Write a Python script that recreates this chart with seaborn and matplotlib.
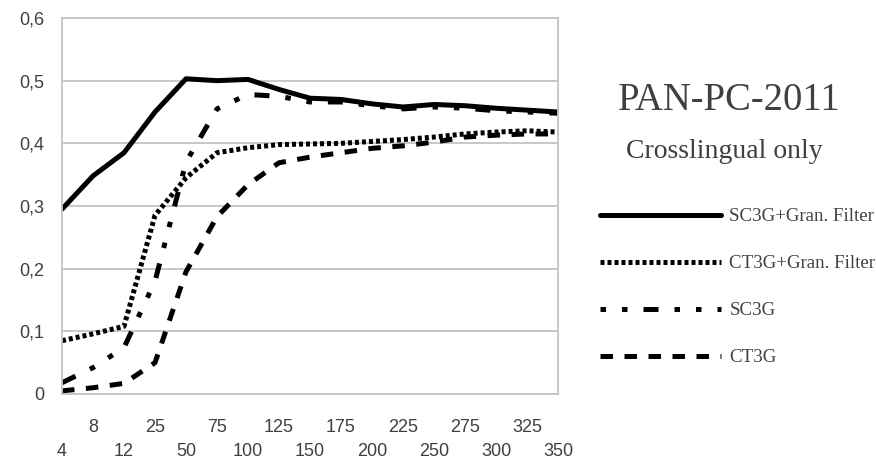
import numpy as np
import pandas as pd
import matplotlib
matplotlib.use("Agg")
import matplotlib.pyplot as plt
import seaborn as sns
from matplotlib.lines import Line2D

categories = ["4", "8", "12", "25", "50", "75", "100", "125", "150",
              "175", "200", "225", "250", "275", "300", "325", "350"]
sc3g_gran = [0.295, 0.348, 0.385, 0.450, 0.503, 0.500, 0.502, 0.486, 0.472,
             0.470, 0.463, 0.458, 0.462, 0.460, 0.456, 0.453, 0.450]
ct3g_gran = [0.085, 0.096, 0.108, 0.285, 0.345, 0.385, 0.393, 0.398, 0.399,
             0.400, 0.403, 0.406, 0.410, 0.415, 0.418, 0.420, 0.418]
sc3g = [0.018, 0.042, 0.074, 0.180, 0.370, 0.455, 0.478, 0.475, 0.466,
        0.466, 0.460, 0.455, 0.458, 0.456, 0.452, 0.450, 0.448]
ct3g = [0.005, 0.010, 0.017, 0.050, 0.195, 0.283, 0.334, 0.369, 0.378,
        0.385, 0.392, 0.396, 0.402, 0.410, 0.413, 0.415, 0.415]
series_names = ["SC3G+Gran. Filter", "CT3G+Gran. Filter", "SC3G", "CT3G"]
y_ticks = [0, 0.1, 0.2, 0.3, 0.4, 0.5, 0.6]
y_tick_labels = ["0", "0,1", "0,2", "0,3", "0,4", "0,5", "0,6"]
title = "PAN-PC-2011"
subtitle = "Crosslingual only"

sns.set_theme(style="white")
plt.rcParams['font.family'] = ['Liberation Sans', 'DejaVu Sans']

W, H = 876, 459
fig = plt.figure(figsize=(W / 100, H / 100), dpi=100)
ax = fig.add_axes([62 / W, 1 - 394 / H, (558 - 62) / W, (394 - 18) / H])

pos = np.arange(len(categories))
df = pd.DataFrame({
    "pos": np.tile(pos, 4),
    "value": sc3g_gran + ct3g_gran + sc3g + ct3g,
    "series": np.repeat(series_names, len(categories)),
})

dash_map = {
    "SC3G+Gran. Filter": "",
    "CT3G+Gran. Filter": (0.8, 0.6),
    "SC3G": (3.0, 3.2, 1.1, 3.2, 1.1, 3.2),
    "CT3G": (2.5, 2.3),
}
legend_offsets = {"CT3G+Gran. Filter": 0, "SC3G": 6.2, "CT3G": 0}
LW = 3.6
sns.lineplot(data=df, x="pos", y="value", hue="series", style="series",
             palette={n: "black" for n in series_names}, dashes=dash_map,
             linewidth=LW, ax=ax, legend=False, sort=False)

ax.set_xlim(0, len(categories) - 1)
ax.set_ylim(0, 0.6)
ax.set_xticks(pos)
ax.set_xticklabels([("\n" + c) if i % 2 == 0 else c for i, c in enumerate(categories)],
                   linespacing=1.5)
ax.set_yticks(y_ticks)
ax.set_yticklabels(y_tick_labels)
ax.set_xlabel("")
ax.set_ylabel("")

gcol = "#c4c4c4"
ax.yaxis.grid(True, color=gcol, lw=1.3)
ax.xaxis.grid(False)
for s in ax.spines.values():
    s.set_color(gcol)
    s.set_linewidth(1.3)
ax.tick_params(axis="x", direction="out", length=8, width=1.3, color=gcol,
               labelcolor="#404040", labelsize=13, pad=10)
ax.tick_params(axis="y", direction="out", length=7, width=1.3, color=gcol,
               labelcolor="#404040", labelsize=13, pad=6)
ax.set_axisbelow(True)

handles = []
for n in series_names:
    d = dash_map[n]
    if d == "":
        h = Line2D([], [], color="black", lw=LW, linestyle="-")
    else:
        h = Line2D([], [], color="black", lw=LW, linestyle=(legend_offsets[n], d))
    handles.append(h)
leg = ax.legend(handles, series_names, loc="upper left",
                bbox_to_anchor=(600 / W, 1 - 208 / H), bbox_transform=fig.transFigure,
                frameon=False, handlelength=6.4, handletextpad=0.45,
                labelspacing=1.58, borderpad=0, borderaxespad=0,
                prop={"family": "Liberation Serif", "size": 13.6})
for t in leg.get_texts():
    t.set_color("#404040")

fig.text(729 / W, 1 - 100 / H, title, ha="center", va="center",
         family="Liberation Serif", size=27.8, color="#404040")
fig.text(724 / W, 1 - 152 / H, subtitle, ha="center", va="center",
         family="Liberation Serif", size=20, color="#404040")

fig.savefig("out.png", dpi=100)
